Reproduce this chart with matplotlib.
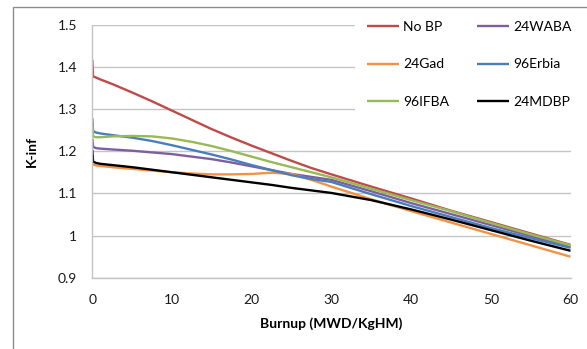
import matplotlib
matplotlib.use("Agg")
import matplotlib.pyplot as plt
from matplotlib.patches import Rectangle

plt.rcParams['font.family'] = ['Lato', 'DejaVu Sans']

burnup = [0, 0.1, 0.5, 1, 2.5, 5, 7.5, 10, 12.5, 15, 17.5, 20, 22.5, 25, 27.5, 30,
          35, 40, 45, 50, 55, 60]

no_bp = [1.416, 1.377, 1.374, 1.370, 1.359, 1.339, 1.318, 1.296, 1.274, 1.252, 1.232,
         1.213, 1.195, 1.177, 1.160, 1.145, 1.116, 1.088, 1.059, 1.032, 1.005, 0.978]
wab24 = [1.230, 1.210, 1.207, 1.206, 1.204, 1.201, 1.197, 1.193, 1.187, 1.181, 1.173,
         1.164, 1.155, 1.146, 1.139, 1.132, 1.105, 1.077, 1.051, 1.025, 0.999, 0.973]
gad24 = [1.169, 1.168, 1.166, 1.165, 1.162, 1.158, 1.154, 1.150, 1.147, 1.145, 1.145,
         1.146, 1.149, 1.146, 1.132, 1.116, 1.086, 1.058, 1.031, 1.004, 0.977, 0.950]
erbia96 = [1.278, 1.247, 1.244, 1.242, 1.238, 1.232, 1.224, 1.214, 1.203, 1.192, 1.180,
           1.167, 1.155, 1.143, 1.134, 1.127, 1.098, 1.070, 1.044, 1.018, 0.994, 0.971]
ifba96 = [1.262, 1.235, 1.233, 1.233, 1.235, 1.236, 1.235, 1.230, 1.222, 1.212, 1.200,
          1.187, 1.174, 1.162, 1.150, 1.138, 1.111, 1.084, 1.058, 1.030, 1.003, 0.977]
mdbp24 = [1.203, 1.175, 1.172, 1.170, 1.167, 1.162, 1.156, 1.150, 1.144, 1.138, 1.132,
          1.126, 1.120, 1.113, 1.107, 1.101, 1.084, 1.062, 1.038, 1.013, 0.988, 0.964]

series = [
    ("No BP", no_bp, "#BE4B48"),
    ("24WABA", wab24, "#7D5FA0"),
    ("24Gad", gad24, "#F39244"),
    ("96Erbia", erbia96, "#4A7EBB"),
    ("96IFBA", ifba96, "#98B954"),
    ("24MDBP", mdbp24, "#000000"),
]

W, H = 587, 349
fig = plt.figure(figsize=(W / 100, H / 100), dpi=100)
ax = fig.add_axes([92.3 / W, 1 - 277.8 / H, (570.5 - 92.3) / W, (277.8 - 24.5) / H])

for name, vals, col in series:
    ax.plot(burnup, vals, color=col, lw=1.7, label=name, solid_capstyle='butt')

ax.set_xlim(0, 60)
ax.set_ylim(0.9, 1.5)
ax.set_xticks([0, 10, 20, 30, 40, 50, 60])
ax.set_yticks([0.9, 1.0, 1.1, 1.2, 1.3, 1.4, 1.5])
ax.set_yticklabels(["0.9", "1", "1.1", "1.2", "1.3", "1.4", "1.5"])
ax.grid(axis='y', color='#c4c4c4', lw=1.0)
ax.set_axisbelow(True)
ax.tick_params(axis='both', length=0, labelsize=10, colors='#1a1a1a')
ax.tick_params(axis='y', pad=11)
ax.tick_params(axis='x', pad=12)
for s in ['top', 'right']:
    ax.spines[s].set_visible(False)
for s in ['left', 'bottom']:
    ax.spines[s].set_color('#c4c4c4')
    ax.spines[s].set_linewidth(1.0)

ax.set_xlabel("Burnup (MWD/KgHM)", fontsize=10, fontweight='bold', labelpad=8)
ax.set_ylabel("K-inf", fontsize=10, fontweight='bold', labelpad=14)

handles, labels = ax.get_legend_handles_labels()
order = [0, 2, 4, 1, 3, 5]
leg = ax.legend([handles[i] for i in order], [labels[i] for i in order],
                ncol=2, loc='upper left',
                bbox_to_anchor=(355 / W, 1 - 9 / H), bbox_transform=fig.transFigure,
                fontsize=10, frameon=True, fancybox=False, framealpha=1,
                facecolor='white', edgecolor='none',
                handlelength=2.3, handletextpad=0.3, columnspacing=2.0,
                labelspacing=1.85, borderpad=0.85, borderaxespad=0)
leg.set_zorder(5)

fig.patches.append(Rectangle((12.5 / W, -0.1), 1.2, 1.1 - 6.5 / H,
                             transform=fig.transFigure, fill=False,
                             edgecolor='#8c8c8c', lw=1.0, figure=fig))

fig.savefig("out.png", dpi=100)
